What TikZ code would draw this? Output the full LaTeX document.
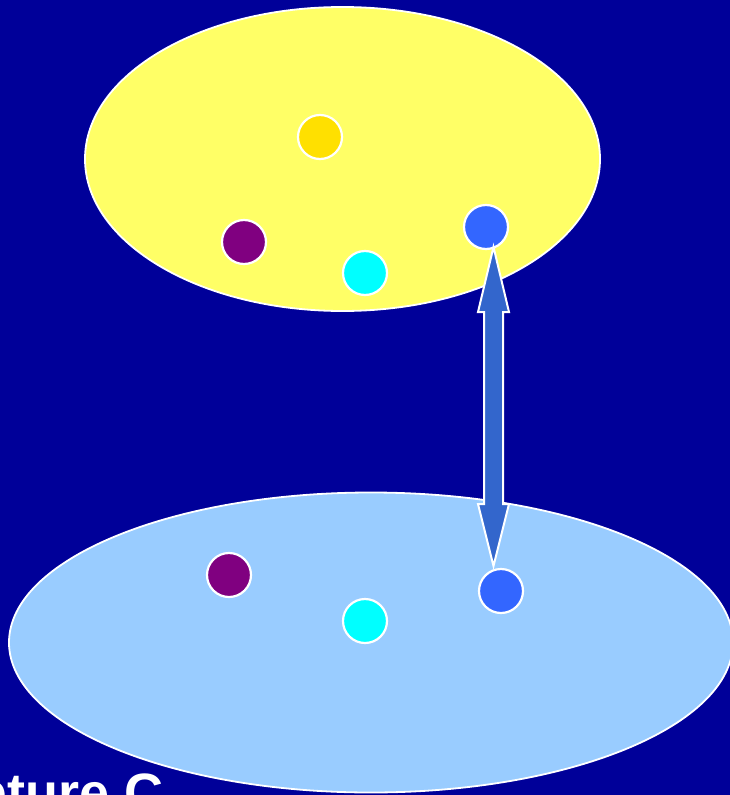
\documentclass[tikz,border=0pt]{standalone}
\usepackage{fontspec}
\setmainfont{Liberation Sans}
\usetikzlibrary{positioning}

\definecolor{navy}{RGB}{0,0,153}
\definecolor{paleyellow}{RGB}{255,255,102}
\definecolor{paleblue}{RGB}{153,204,255}
\definecolor{gold}{RGB}{255,224,0}
\definecolor{plum}{RGB}{128,0,128}
\definecolor{aqua}{RGB}{0,255,255}
\definecolor{royal}{RGB}{51,102,255}
\definecolor{shaft}{RGB}{51,102,204}

\begin{document}
\begin{tikzpicture}[
    x=1pt, y=-1pt,
    setbox/.style = {draw=white, line width=1.8pt},
    dot/.style = {circle, draw=white, line width=2.2pt, inner sep=0pt, minimum size=44pt},
    link/.style = {fill=shaft, draw=white, line width=2pt, line join=miter}
]
    % frame and background
    \useasboundingbox (0,0) rectangle (730,795);
    \fill[navy] (0,0) rectangle (730,795);

    % the two sets
    \draw[setbox, fill=paleyellow] (342.5,159) ellipse [x radius=257.5pt, y radius=152pt];
    \draw[setbox, fill=paleblue] (371,642.5) ellipse [x radius=362pt, y radius=150pt];

    % elements of the upper set
    \node[dot, fill=gold] (Ty) at (320,137) {};
    \node[dot, fill=plum] (Tp) at (244,242) {};
    \node[dot, fill=aqua] (Tc) at (365,273) {};
    \node[dot, fill=royal] (Tb) at (486,227) {};

    % elements of the lower set
    \node[dot, fill=plum] (Bp) at (229,575) {};
    \node[dot, fill=aqua] (Bc) at (365,621) {};
    \node[dot, fill=royal] (Bb) at (501,591) {};

    % correspondence
    \coordinate (up) at (493.5,247);
    \coordinate (dn) at (493.5,566);
    \draw[link] (up) -- ++(15.5,65) -- ++(-6,0) -- ++(0,192) -- ++(6,0)
        -- (dn) -- ++(-15.5,-62) -- ++(6,0) -- ++(0,-192) -- ++(-6,0) -- cycle;

    \node[anchor=base west, inner sep=0pt, text=white, font=\bfseries\fontsize{54}{60}\selectfont]
        (cap) at (-95,811) {Capture C};
\end{tikzpicture}
\end{document}
